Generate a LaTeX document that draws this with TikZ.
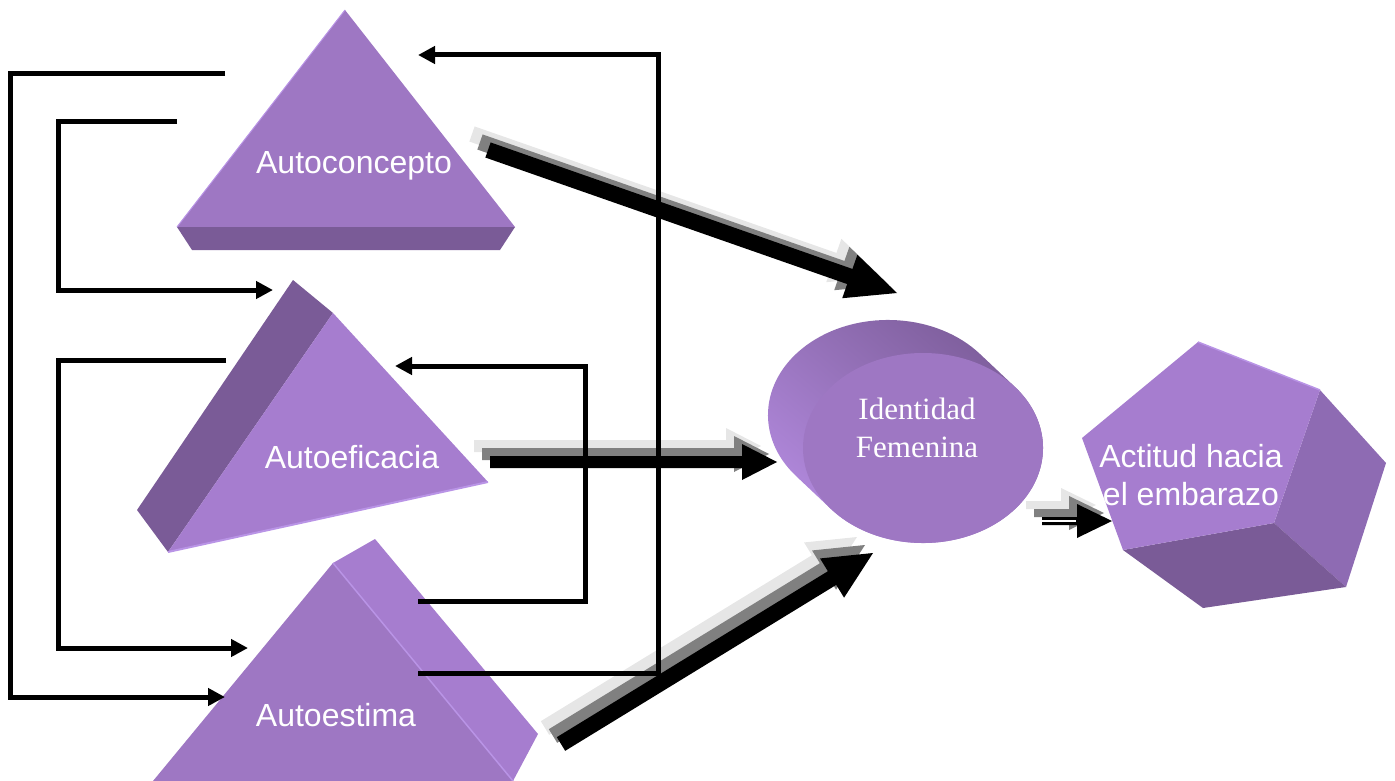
\documentclass[tikz,border=0pt]{standalone}
\usepackage{fontspec}
\setmainfont{Liberation Sans}
\newfontfamily\serifface{Liberation Serif}
\usetikzlibrary{calc,arrows.meta}

\definecolor{faceA}{HTML}{9E77C3}
\definecolor{faceB}{HTML}{A67DCF}
\definecolor{faceMid}{HTML}{8E6BB3}
\definecolor{faceDark}{HTML}{7A5B97}
\definecolor{faceGlow}{HTML}{B48BE0}
\definecolor{edgeLight}{HTML}{B994E6}
\definecolor{shadeLight}{HTML}{E6E6E6}
\definecolor{shadeMid}{HTML}{808080}

% block arrow: #1 start, #2 tip, #3 offset, #4 colour,
% #5 shaft half width, #6 head length, #7 head half width
\newcommand\fatarrow[7]{%
  \coordinate (fa-s) at ($(#1)+(#3)$);
  \coordinate (fa-t) at ($(#2)+(#3)$);
  \coordinate (fa-b) at ($(fa-t)!#6!(fa-s)$);
  \fill[#4] ($(fa-s)!#5!90:(fa-t)$) -- ($(fa-b)!#5!90:(fa-t)$)
    -- ($(fa-b)!#7!90:(fa-t)$) -- (fa-t) -- ($(fa-b)!#7!-90:(fa-t)$)
    -- ($(fa-b)!#5!-90:(fa-t)$) -- ($(fa-s)!#5!-90:(fa-t)$) -- cycle;}
% block arrow with its two grey shadows
\newcommand\shadowarrow[5]{%
  \fatarrow{#1}{#2}{-16,-16}{shadeLight}{#3}{#4}{#5}
  \fatarrow{#1}{#2}{-8,-8}{shadeMid}{#3}{#4}{#5}
  \fatarrow{#1}{#2}{0,0}{black}{#3}{#4}{#5}}

\begin{document}
\begin{tikzpicture}[x=1pt,y=-1pt,
  label/.style={text=white,inner sep=0pt,font=\fontsize{32}{38}\selectfont},
  link/.style={line width=5pt,line join=miter,-{Triangle[length=17pt,width=17pt]}}]
\useasboundingbox (0,0) rectangle (1395,781);

% Autoconcepto: triangle with a bottom band
\fill[faceA] (345,10) -- (515,227) -- (177,227) -- cycle;
\fill[faceDark] (177,227) -- (515,227) -- (500,250) -- (192,250) -- cycle;
\draw[edgeLight,line width=1pt] (177,227) -- (345,10);

% Autoeficacia: triangle with a side band
\fill[faceDark] (293,280) -- (333,313) -- (168,552) -- (137,510) -- cycle;
\fill[faceB] (333,313) -- (488,482) -- (168,552) -- cycle;
\draw[edgeLight,line width=2pt] (168,552) -- (488,482);

% Autoestima: triangle with a right side band
\fill[faceB] (333,563) -- (375,539) -- (538,734) -- (513,781) -- cycle;
\fill[faceA] (333,563) -- (513,781) -- (153,781) -- cycle;
\draw[edgeLight,line width=1.5pt] (333,563) -- (513,781);

% Identidad Femenina: cylinder seen from the front
\shade[top color=faceDark,bottom color=faceGlow,shading angle=-40]
  (979.9,353.9) arc[start angle=40,end angle=220,x radius=120pt,y radius=95pt]
  -- (831.1,509.1) arc[start angle=220,end angle=400,x radius=120pt,y radius=95pt]
  -- cycle;
\fill[faceA] (923,448) ellipse[x radius=120pt,y radius=95pt];

% Actitud hacia el embarazo: pentagonal solid
\fill[faceMid] (1320,390) -- (1386,463) -- (1346,587) -- (1274,523) -- cycle;
\fill[faceDark] (1123,550) -- (1274,523) -- (1346,587) -- (1203,608) -- cycle;
\fill[faceB] (1198,342) -- (1320,390) -- (1274,523) -- (1123,550) -- (1082,438) -- cycle;
\draw[edgeLight,line width=1.5pt] (1198,342) -- (1320,390);

% labels
\node[label,anchor=base] (autoconcepto) at (354,173) {Autoconcepto};
\node[label,anchor=base] (autoeficacia) at (352,468) {Autoeficacia};
\node[label,anchor=base] (autoestima) at (336,726) {Autoestima};
\node[label,font=\serifface\fontsize{31}{38}\selectfont,align=center] (identidad) at (917,428) {Identidad\\Femenina};
\node[label,align=center] (actitud) at (1191,475) {Actitud hacia\\el embarazo};

% end points of the block arrows
\coordinate (a1s) at (488,150); \coordinate (a1t) at (897,293);
\coordinate (a2s) at (490,462); \coordinate (a2t) at (777,462);
\coordinate (a3s) at (561,744); \coordinate (a3t) at (873,553);
\coordinate (a4s) at (1042,521); \coordinate (a4t) at (1112,521);

\shadowarrow{a1s}{a1t}{8pt}{50pt}{23pt}
\shadowarrow{a2s}{a2t}{6pt}{35pt}{18pt}
\shadowarrow{a3s}{a3t}{8pt}{48pt}{23pt}
\shadowarrow{a4s}{a4t}{4pt}{35pt}{17pt}
\fill[white] ($(a4s)+(0,-0.7)$) rectangle ($(a4t)+(-36,0.7)$);

% end points of the feedback links
\coordinate (l1s) at (225,74);  \coordinate (l1e) at (225,697);
\coordinate (l2s) at (177,122); \coordinate (l2e) at (273,290);
\coordinate (l3s) at (226,360); \coordinate (l3e) at (248,648);
\coordinate (l4s) at (418,601); \coordinate (l4e) at (395,366);
\coordinate (l5s) at (418,673); \coordinate (l5e) at (418,55);

\draw[link] (l1s) -- ++(-215,0) |- (l1e);
\draw[link] (l2s) -- ++(-119,0) |- (l2e);
\draw[link] (l3s) -- ++(-168,0) |- (l3e);
\draw[link] (l4s) -- ++(167,0) |- (l4e);
\draw[link] (l5s) -- ++(240,0) |- (l5e);
\end{tikzpicture}
\end{document}
